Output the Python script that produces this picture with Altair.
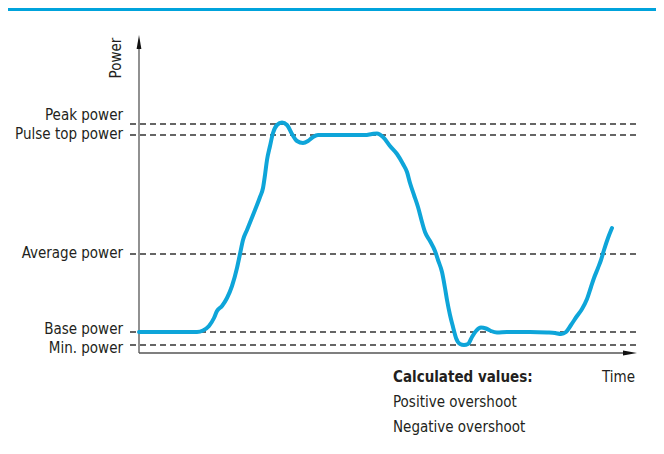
import altair as alt
import pandas as pd

# Time (arbitrary units from the power axis) and power (arbitrary units above the time axis)
curve_time = [0, 58, 64, 70, 75, 78, 83, 88, 93, 98, 101, 104, 108, 112, 116, 121, 124, 126, 128,
              131, 134, 138, 143, 148, 153, 158, 164, 169, 174, 179, 191, 211, 226, 233, 238, 244,
              251, 258, 264, 268, 271, 275, 279, 283, 286, 291, 296, 299, 303, 306, 308, 311, 314,
              317, 321, 325, 329, 333, 337, 342, 347, 352, 358, 368, 391, 408, 416, 422, 427, 432,
              438, 443, 448, 452, 455, 459, 462, 465, 469, 473]
curve_power = [21, 21, 22.5, 27, 35, 42, 47, 55, 67, 85, 99, 113, 123, 133, 143, 156, 165, 178, 193,
               207, 220, 228, 230.5, 228, 219, 212, 210, 212, 216, 218, 218, 218, 218, 219, 219.5, 216,
               207, 199, 189, 181, 170, 158, 146, 131, 121, 112, 102, 93, 81, 65, 53, 38, 26,
               15, 9, 8, 9, 16, 22, 25.5, 24.5, 22, 20.5, 21, 21, 20.5, 20, 19, 21, 28,
               37, 44, 54, 66, 75, 85, 93, 103, 115, 125]

level_names = ["Peak power", "Pulse top power", "Average power", "Base power", "Min. power"]
level_values = [229, 218, 99, 21, 8]
label_values = [238, 219, 100, 24, 5]

calc_title = "Calculated values:"
calc_title_power = -24
calc_lines = ["Positive overshoot", "Negative overshoot"]
calc_power = [-49, -74]

W, H = 648, 434
FONT = "DejaVu Sans Condensed, Liberation Sans Narrow, sans-serif"
FS = 15
BLUE = "#0ea5d9"
TEXT = "#231f20"

xs = alt.Scale(domain=[-131, 517], nice=False, zero=False)
ys = alt.Scale(domain=[-89, 345], nice=False, zero=False)

curve_df = pd.DataFrame({"t": curve_time, "p": curve_power})
levels_df = pd.DataFrame({"name": level_names, "p": level_values, "lp": label_values})
calc_df = pd.DataFrame({"text": calc_lines, "p": calc_power})

band = alt.Chart().mark_rule(color="#00a3dc", strokeWidth=3).encode(
    x=alt.value(0), x2=alt.value(W), y=alt.value(1.5))

dashes = alt.Chart(levels_df).mark_rule(color="#333333", strokeWidth=1.4, strokeDash=[6, 4]).encode(
    y=alt.Y("p:Q", scale=ys, axis=None),
    x=alt.X(datum=-9, scale=xs, axis=None),
    x2=alt.X2(datum=498),
)

axis_y = alt.Chart().mark_rule(color="#555555", strokeWidth=1.3).encode(
    x=alt.X(datum=0, scale=xs, axis=None),
    y=alt.Y(datum=0, scale=ys, axis=None),
    y2=alt.Y2(datum=306),
)
axis_x = alt.Chart().mark_rule(color="#555555", strokeWidth=1.3).encode(
    y=alt.Y(datum=0, scale=ys, axis=None),
    x=alt.X(datum=0, scale=xs, axis=None),
    x2=alt.X2(datum=488),
)
arrow_up = alt.Chart().mark_point(
    shape="M-0.34,1L0,-1L0.34,1Z", filled=True, color="#111111", opacity=1, size=196, strokeWidth=0
).encode(x=alt.X(datum=0, scale=xs, axis=None), y=alt.Y(datum=311, scale=ys, axis=None))
arrow_right = alt.Chart().mark_point(
    shape="M-1,-0.34L1,0L-1,0.34Z", filled=True, color="#111111", opacity=1, size=196, strokeWidth=0
).encode(x=alt.X(datum=491, scale=xs, axis=None), y=alt.Y(datum=0, scale=ys, axis=None))

line = alt.Chart(curve_df).mark_line(
    color=BLUE, strokeWidth=4, interpolate="monotone", strokeCap="round", strokeJoin="round"
).encode(x=alt.X("t:Q", scale=xs, axis=None), y=alt.Y("p:Q", scale=ys, axis=None))

labels = alt.Chart(levels_df).mark_text(
    align="right", baseline="middle", font=FONT, fontSize=FS, color=TEXT
).encode(
    x=alt.X(datum=-16, scale=xs, axis=None),
    y=alt.Y("lp:Q", scale=ys, axis=None),
    text="name:N",
)

power_lbl = alt.Chart().mark_text(
    text="Power", angle=270, align="center", baseline="middle", font=FONT, fontSize=FS, color=TEXT
).encode(x=alt.X(datum=-23, scale=xs, axis=None), y=alt.Y(datum=295, scale=ys, axis=None))

time_lbl = alt.Chart().mark_text(
    text="Time", align="right", baseline="middle", font=FONT, fontSize=FS, color=TEXT
).encode(x=alt.X(datum=496, scale=xs, axis=None), y=alt.Y(datum=-24, scale=ys, axis=None))

calc_head = alt.Chart().mark_text(
    text=calc_title, align="left", baseline="middle", font=FONT, fontSize=FS,
    fontWeight="bold", color=TEXT
).encode(x=alt.X(datum=254, scale=xs, axis=None),
         y=alt.Y(datum=calc_title_power, scale=ys, axis=None))

calc = alt.Chart(calc_df).mark_text(
    align="left", baseline="middle", font=FONT, fontSize=FS, color=TEXT
).encode(
    x=alt.X(datum=254, scale=xs, axis=None),
    y=alt.Y("p:Q", scale=ys, axis=None),
    text="text:N",
)

chart = alt.layer(
    band, dashes, axis_y, axis_x, arrow_up, arrow_right, line, labels, power_lbl, time_lbl,
    calc_head, calc
).properties(
    width=W, height=H, padding=0, autosize="none"
).configure_view(stroke=None)

chart.save("out.html", embed_options={"renderer": "svg", "actions": False})
